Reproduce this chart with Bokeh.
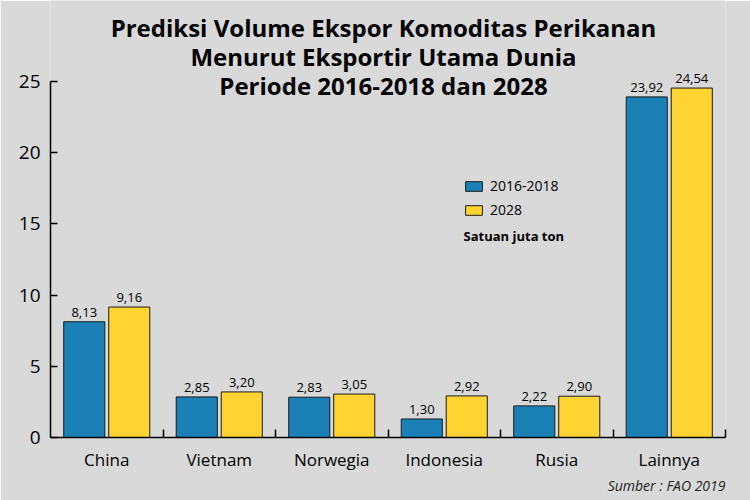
from bokeh.plotting import figure
from bokeh.models import (ColumnDataSource, Range1d, FixedTicker,
                          Label, Legend, LegendItem, Title)
from bokeh.transform import dodge
from bokeh.core.properties import value
from bokeh.embed import file_html
from bokeh.resources import INLINE

# ---- data ----
categories = ["China", "Vietnam", "Norwegia", "Indonesia", "Rusia", "Lainnya"]
series_names = ["2016-2018", "2028"]
vol_2016_2018 = [8.13, 2.85, 2.83, 1.30, 2.22, 23.92]
vol_2028 = [9.16, 3.20, 3.05, 2.92, 2.90, 24.54]
y_ticks = [0, 5, 10, 15, 20, 25]
title_lines = ["Prediksi Volume Ekspor Komoditas Perikanan",
               "Menurut Eksportir Utama Dunia",
               "Periode 2016-2018 dan 2028"]
unit_note = "Satuan juta ton"
source_note = "Sumber : FAO 2019"

def fmt(v):
    return f"{v:.2f}".replace(".", ",")

BG = "#d9d9d9"
BLUE = "#1a80b6"
YELLOW = "#fed332"
EDGE = "#1a1a1a"
FONT = "Open Sans"

n = len(categories)
centers = [i + 0.5 for i in range(n)]
bounds = [i + 1 for i in range(n)]

src = ColumnDataSource(dict(
    cat=categories, pos=centers, a=vol_2016_2018, b=vol_2028,
    la=[fmt(v) for v in vol_2016_2018], lb=[fmt(v) for v in vol_2028],
))

W, H = 750, 500
FRAME_TOP_PAD = 81 / (356 / 25)   # headroom above 25 so the titles sit inside the frame
p = figure(width=W, height=H, output_backend="svg", toolbar_location=None,
           x_range=Range1d(0, n), y_range=Range1d(0, y_ticks[-1] + FRAME_TOP_PAD),
           min_border_left=50, min_border_right=25, min_border_top=0, min_border_bottom=63)
p.background_fill_color = BG
p.border_fill_color = BG
p.outline_line_color = None
p.grid.visible = False

xaxis = p.xaxis[0]
xaxis.ticker = FixedTicker(ticks=centers, minor_ticks=bounds)
xaxis.major_label_overrides = {c: name for c, name in zip(centers, categories)}
xaxis.major_tick_line_color = None
xaxis.major_tick_in = 0
xaxis.major_tick_out = 0
xaxis.minor_tick_in = 8
xaxis.minor_tick_out = 0
xaxis.minor_tick_line_color = "black"
xaxis.minor_tick_line_width = 1.5
xaxis.axis_line_color = "black"
xaxis.axis_line_width = 1.5
xaxis.major_label_text_font = FONT
xaxis.major_label_text_font_size = "17px"
xaxis.major_label_text_color = "black"
xaxis.major_label_standoff = 10

yaxis = p.yaxis[0]
yaxis.ticker = FixedTicker(ticks=y_ticks)
yaxis.bounds = (y_ticks[0], y_ticks[-1])
yaxis.major_tick_in = 7
yaxis.major_tick_out = 0
yaxis.minor_tick_line_color = None
yaxis.major_tick_line_width = 1.5
yaxis.major_tick_line_color = "black"
yaxis.axis_line_color = "black"
yaxis.axis_line_width = 1.5
yaxis.major_label_text_font = FONT
yaxis.major_label_text_font_size = "19px"
yaxis.major_label_text_color = "black"
yaxis.major_label_standoff = 10

off = 0.2
bw = 0.365
ra = p.vbar(x=dodge("pos", -off), top="a", width=bw, source=src,
            fill_color=BLUE, line_color=EDGE, line_width=1)
rb = p.vbar(x=dodge("pos", off), top="b", width=bw, source=src,
            fill_color=YELLOW, line_color=EDGE, line_width=1)

for col, lab, dx in (("a", "la", -off), ("b", "lb", off)):
    p.text(x=dodge("pos", dx), y=col, text=lab, source=src,
           text_align="center", text_baseline="bottom", y_offset=-5,
           text_font=value(FONT), text_font_size="13px", text_color="black")

legend = Legend(items=[LegendItem(label=series_names[0], renderers=[ra]),
                       LegendItem(label=series_names[1], renderers=[rb])],
                location=(413, 218), orientation="vertical",
                background_fill_alpha=0, border_line_color=None,
                glyph_width=21, glyph_height=12, label_height=12,
                spacing=5, padding=0, margin=0, label_standoff=6,
                label_text_font=FONT, label_text_font_size="14px",
                label_text_color="black")
p.add_layout(legend, "center")

p.add_layout(Label(x=413, y=202, x_units="screen", y_units="screen", text=unit_note,
                   text_font=FONT, text_font_size="13px", text_font_style="bold",
                   text_baseline="alphabetic", text_color="black"))

title_y = [410, 381, 352]
for t, ty in zip(title_lines, title_y):
    p.add_layout(Label(x=333, y=ty, x_units="screen", y_units="screen", text=t,
                       text_align="center", text_baseline="alphabetic",
                       text_font=FONT, text_font_size="24px", text_font_style="bold",
                       text_color="black"))

p.add_layout(Title(text=source_note, align="right", text_font=FONT,
                   text_font_size="14px", text_font_style="italic",
                   text_color="#222222", standoff=0), "below")

open("out.html", "w").write(file_html(p, INLINE))
